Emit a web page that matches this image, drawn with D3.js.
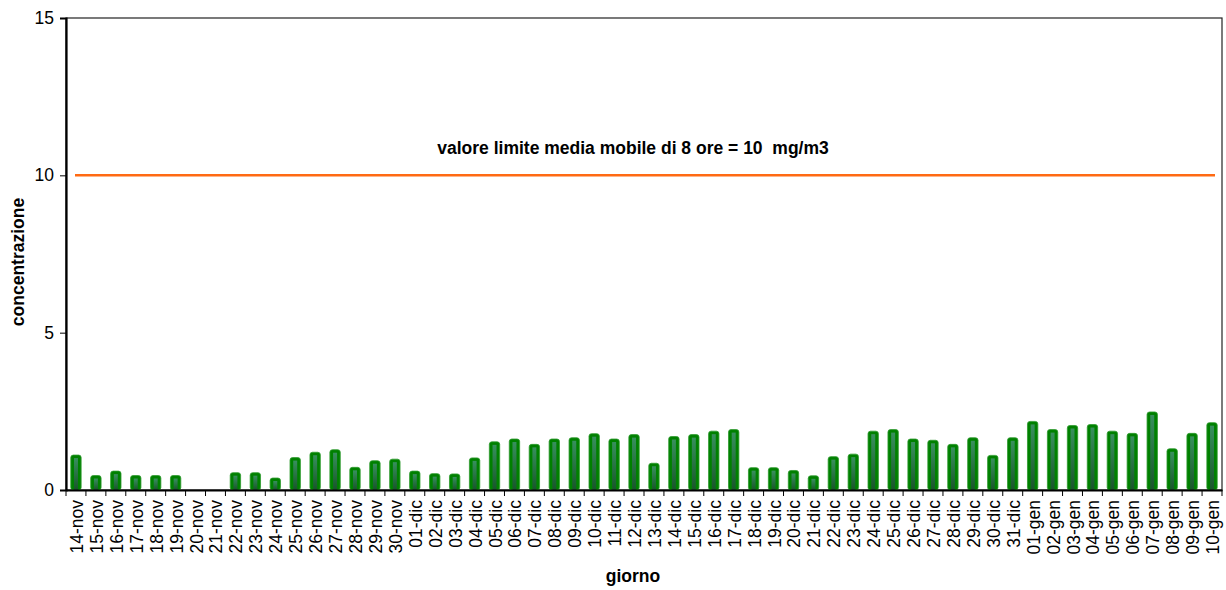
<!DOCTYPE html>
<html>
<head>
<meta charset="utf-8">
<script src="https://cdn.jsdelivr.net/npm/d3@7"></script>
<style>
  body { margin: 0; background: #fff; }
  text { font-family: "Liberation Sans", Arial, sans-serif; }
</style>
</head>
<body>
<svg id="chart" width="1226" height="590"></svg>
<script>
// giorni e valori (mg/m3)
const days = [
  "14-nov","15-nov","16-nov","17-nov","18-nov","19-nov","20-nov","21-nov","22-nov","23-nov",
  "24-nov","25-nov","26-nov","27-nov","28-nov","29-nov","30-nov",
  "01-dic","02-dic","03-dic","04-dic","05-dic","06-dic","07-dic","08-dic","09-dic","10-dic",
  "11-dic","12-dic","13-dic","14-dic","15-dic","16-dic","17-dic","18-dic","19-dic","20-dic",
  "21-dic","22-dic","23-dic","24-dic","25-dic","26-dic","27-dic","28-dic","29-dic","30-dic","31-dic",
  "01-gen","02-gen","03-gen","04-gen","05-gen","06-gen","07-gen","08-gen","09-gen","10-gen"
];
const values = [
  1.11, 0.46, 0.60, 0.46, 0.46, 0.46, null, null, 0.55, 0.55,
  0.38, 1.03, 1.20, 1.28, 0.72, 0.93, 0.98,
  0.60, 0.52, 0.51, 1.02, 1.53, 1.62, 1.45, 1.62, 1.66, 1.79,
  1.62, 1.76, 0.85, 1.70, 1.76, 1.87, 1.92, 0.71, 0.71, 0.62,
  0.45, 1.06, 1.14, 1.87, 1.92, 1.62, 1.58, 1.45, 1.66, 1.10, 1.66,
  2.18, 1.92, 2.05, 2.08, 1.87, 1.80, 2.48, 1.31, 1.80, 2.14
];
const yTicks = [0, 5, 10, 15];
const limitValue = 10;
const limitLabel = "valore limite media mobile di 8 ore = 10\u00a0 mg/m3";

const svg = d3.select("#chart");
const m = { left: 66, right: 4, top: 18, bottom: 100 };
const W = 1226, H = 590;
const iw = W - m.left - m.right, ih = H - m.top - m.bottom;
const fs = 17.5;

const x = d3.scaleBand().domain(days).range([m.left, m.left + iw]).paddingInner(0.48).paddingOuter(0.24);
const y = d3.scaleLinear().domain([0, 15]).range([m.top + ih, m.top]);
const xb = d3.scaleBand().domain(days).range([m.left, m.left + iw]);

const defs = svg.append("defs");
const g1 = defs.append("linearGradient").attr("id", "core").attr("x1", 0).attr("y1", 0).attr("x2", 0).attr("y2", 1);
g1.append("stop").attr("offset", "0%").attr("stop-color", "#469474");
g1.append("stop").attr("offset", "100%").attr("stop-color", "#1f4a35");

// cornice area del grafico
svg.append("rect")
  .attr("x", m.left).attr("y", m.top).attr("width", iw).attr("height", ih)
  .attr("fill", "none").attr("stroke", "#222").attr("stroke-width", 1.2);

// barre
const bars = svg.append("g").selectAll("g")
  .data(days.map((d, i) => ({ d, v: values[i] })).filter(e => e.v != null))
  .join("g");
bars.append("rect")
  .attr("x", e => x(e.d)).attr("y", e => y(e.v))
  .attr("width", x.bandwidth()).attr("height", e => y(0) - y(e.v))
  .attr("rx", 2.5)
  .attr("fill", "#008000").attr("stroke", "#2f9a2f").attr("stroke-width", 0.8);
bars.append("rect")
  .attr("x", e => x(e.d) + x.bandwidth() / 2 - 2).attr("y", e => y(e.v) + 3)
  .attr("width", 4).attr("height", e => Math.max(0, y(0) - y(e.v) - 3))
  .attr("fill", "url(#core)").attr("opacity", 0.8);

// linea limite
svg.append("line")
  .attr("x1", m.left + 9).attr("x2", m.left + iw - 7)
  .attr("y1", y(limitValue)).attr("y2", y(limitValue))
  .attr("stroke", "#ff6a13").attr("stroke-width", 2.5);
svg.append("text")
  .attr("x", 633).attr("y", 154)
  .attr("text-anchor", "middle").attr("font-size", fs).attr("font-weight", "bold")
  .text(limitLabel);

// asse y
const yAxis = svg.append("g").attr("transform", `translate(${m.left},0)`)
  .call(d3.axisLeft(y).tickValues(yTicks).tickSize(6).tickPadding(6).tickFormat(d3.format("d")));
yAxis.select(".domain").attr("stroke", "#000").attr("stroke-width", 2.2);
yAxis.selectAll(".tick line").attr("stroke", "#000");
yAxis.selectAll(".tick text").attr("font-size", fs).attr("fill", "#000")
  .attr("font-family", "'Liberation Sans', Arial, sans-serif");

// asse x
const xAxis = svg.append("g").attr("transform", `translate(0,${y(0)})`)
  .call(d3.axisBottom(xb).tickSize(0).tickPadding(0));
xAxis.select(".domain").attr("stroke", "#000").attr("stroke-width", 2.2);
xAxis.selectAll(".tick text")
  .attr("font-size", fs).attr("fill", "#000")
  .attr("font-family", "'Liberation Sans', Arial, sans-serif")
  .attr("text-anchor", "end")
  .attr("dy", null)
  .attr("transform", "translate(7,10) rotate(-90)");
// tacche tra le categorie
svg.append("g").selectAll("line")
  .data(d3.range(days.length + 1))
  .join("line")
  .attr("x1", i => m.left + i * xb.step()).attr("x2", i => m.left + i * xb.step())
  .attr("y1", y(0)).attr("y2", y(0) + 6)
  .attr("stroke", "#000").attr("stroke-width", 1);

// titoli assi
svg.append("text")
  .attr("x", 633).attr("y", 582)
  .attr("text-anchor", "middle").attr("font-size", fs).attr("font-weight", "bold")
  .text("giorno");
svg.append("text")
  .attr("transform", `translate(24,${m.top + ih / 2 + 8}) rotate(-90)`)
  .attr("text-anchor", "middle").attr("font-size", fs).attr("font-weight", "bold")
  .text("concentrazione");
</script>
</body>
</html>
